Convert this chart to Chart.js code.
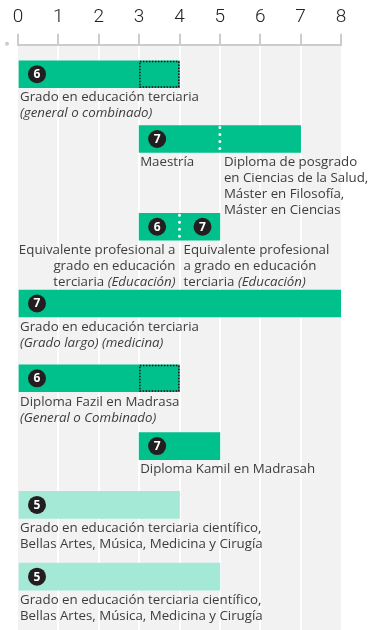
<!DOCTYPE html>
<html>
<head>
<meta charset="utf-8">
<script src="https://cdn.jsdelivr.net/npm/chart.js@4.4.1/dist/chart.umd.min.js"></script>
<style>
  html, body { margin: 0; padding: 0; background: #fff; }
  #wrap { width: 368px; height: 630px; }
</style>
</head>
<body>
<div id="wrap"><canvas id="chart"></canvas></div>
<script>
// --- data ---
const yearTicks = [0, 1, 2, 3, 4, 5, 6, 7, 8];
const mainSeg   = [[0, 3], [3, 7], [3, 5], [0, 8], [0, 3], [3, 5], null, null];
const dottedSeg = [[3, 4], null, null, null, [3, 4], null, null, null];
const lightSeg  = [null, null, null, null, null, null, [0, 4], [0, 5]];
const splitAt   = [null, 5, 4, null, null, null, null, null];
const iscedLevel = [[6], [7], [6, 7], [7], [6], [7], [5], [5]];
const labelMain = [
  ['Grado en educación terciaria', '_(general o combinado)_'],
  ['Maestría'],
  ['Equivalente profesional a', 'grado en educación', 'terciaria _(Educación)_'],
  ['Grado en educación terciaria', '_(Grado largo) (medicina)_'],
  ['Diploma Fazil en Madrasa', '_(General o Combinado)_'],
  ['Diploma Kamil en Madrasah'],
  ['Grado en educación terciaria científico,', 'Bellas Artes, Música, Medicina y Cirugía'],
  ['Grado en educación terciaria científico,', 'Bellas Artes, Música, Medicina y Cirugía']
];
const labelSplit = [
  null,
  ['Diploma de posgrado', 'en Ciencias de la Salud,', 'Máster en Filosofía,', 'Máster en Ciencias'],
  ['Equivalente profesional', 'a grado en educación', 'terciaria _(Educación)_'],
  null, null, null, null, null
];

// --- layout ---
const rowGap = [29.5, 65, 88, 77, 75, 68, 59, 72]; // spacing between row centres
const rowY = [];
rowGap.reduce((acc, g) => { rowY.push(acc + g); return acc + g; }, 0);
const mainAlignRight = [false, false, true, false, false, false, false, false];

const GREEN = '#00c08b', LIGHT = '#a3e9d6', TEXT = '#3d3d3d';
const FONT = '"Open Sans", sans-serif';

function toData(segs) {
  return segs.map((s, i) => s ? { x: s, y: rowY[i] } : null).filter(d => d);
}

function drawRich(ctx, line, x, y, alignRight) {
  const parts = line.split('_');
  const fonts = parts.map((p, k) => (k % 2 ? 'italic ' : '') + '13.3px ' + FONT);
  let total = 0;
  parts.forEach((p, k) => { ctx.font = fonts[k]; total += ctx.measureText(p).width; });
  let cx = alignRight ? x - total : x;
  parts.forEach((p, k) => {
    ctx.font = fonts[k];
    ctx.fillText(p, cx, y);
    cx += ctx.measureText(p).width;
  });
}

const decorations = {
  id: 'decorations',
  beforeDraw(chart) {
    const { ctx, chartArea, scales } = chart;
    const x0 = scales.x.getPixelForValue(0), x1 = scales.x.getPixelForValue(8);
    ctx.save();
    ctx.fillStyle = '#f2f2f2';
    ctx.fillRect(x0, chartArea.top + 1, x1 - x0, chart.height - chartArea.top);
    ctx.fillStyle = '#cccccc';
    ctx.beginPath();
    ctx.arc(7, chartArea.top - 1, 2, 0, Math.PI * 2);
    ctx.fill();
    ctx.restore();
  },
  afterDatasetsDraw(chart) {
    const { ctx, scales } = chart;
    const xs = scales.x;
    const bars = {};
    chart.data.datasets.forEach((ds, di) => {
      chart.getDatasetMeta(di).data.forEach((el, k) => {
        const p = el.getProps(['x', 'y', 'base', 'height'], true);
        const row = rowY.indexOf(ds.data[k].y);
        bars[row] = bars[row] || [];
        bars[row].push({ ds: ds.label, ...p });
      });
    });
    ctx.save();
    // dotted outline of optional year
    Object.keys(bars).forEach(r => {
      bars[r].forEach(b => {
        if (b.ds !== 'optional') return;
        ctx.strokeStyle = '#111';
        ctx.lineWidth = 1.5;
        ctx.setLineDash([1.5, 1.5]);
        const l = Math.min(b.x, b.base), w = Math.abs(b.x - b.base);
        ctx.strokeRect(l + 0.75, b.y - b.height / 2 + 0.75, w - 1.5, b.height - 1.5);
      });
    });
    ctx.setLineDash([]);
    for (let i = 0; i < rowY.length; i++) {
      const b = bars[i].find(d => d.ds !== 'optional');
      const top = b.y - b.height / 2, bottom = b.y + b.height / 2;
      const start = Math.min(b.x, b.base);
      // white dotted split
      if (splitAt[i] !== null) {
        const sx = xs.getPixelForValue(splitAt[i]);
        ctx.strokeStyle = '#fff';
        ctx.lineWidth = 3;
        ctx.lineCap = 'round';
        ctx.setLineDash([0, 7]);
        ctx.beginPath();
        ctx.moveTo(sx, top + 2);
        ctx.lineTo(sx, bottom);
        ctx.stroke();
        ctx.setLineDash([]);
      }
      // level badges
      const badgeX = [start + 18];
      if (iscedLevel[i].length > 1) badgeX.push(xs.getPixelForValue(splitAt[i]) + 23);
      iscedLevel[i].forEach((lv, k) => {
        ctx.fillStyle = '#231f20';
        ctx.beginPath();
        ctx.arc(badgeX[k], b.y, 9, 0, Math.PI * 2);
        ctx.fill();
        ctx.fillStyle = '#fff';
        ctx.font = 'bold 12px ' + FONT;
        ctx.textAlign = 'center';
        ctx.textBaseline = 'middle';
        ctx.fillText(String(lv), badgeX[k], b.y + 0.5);
      });
      // labels
      ctx.fillStyle = TEXT;
      ctx.textAlign = 'left';
      ctx.textBaseline = 'middle';
      const mx = mainAlignRight[i] ? xs.getPixelForValue(splitAt[i]) - 4 : start + 1;
      labelMain[i].forEach((line, k) => drawRich(ctx, line, mx, bottom + 10 + k * 16, mainAlignRight[i]));
      if (labelSplit[i]) {
        const lx = xs.getPixelForValue(splitAt[i]) + 4;
        labelSplit[i].forEach((line, k) => drawRich(ctx, line, lx, bottom + 10 + k * 16, false));
      }
    }
    ctx.restore();
  }
};

new Chart(document.getElementById('chart'), {
  type: 'bar',
  data: {
    datasets: [
      { label: 'main', data: toData(mainSeg), backgroundColor: GREEN },
      { label: 'optional', data: toData(dottedSeg), backgroundColor: GREEN },
      { label: 'light', data: toData(lightSeg), backgroundColor: LIGHT }
    ]
  },
  options: {
    indexAxis: 'y',
    responsive: true,
    maintainAspectRatio: false,
    animation: false,
    layout: { padding: { left: 18, right: 27, top: 1, bottom: 0 } },
    datasets: { bar: { barThickness: 27, grouped: false, borderWidth: 0 } },
    plugins: { legend: { display: false }, tooltip: { enabled: false } },
    scales: {
      x: {
        type: 'linear',
        position: 'top',
        min: 0,
        max: 8,
        afterBuildTicks: (s) => { s.ticks = yearTicks.map(v => ({ value: v })); },
        ticks: { color: '#222', font: { family: 'Roboto, sans-serif', size: 19, weight: 300 }, padding: 5 },
        grid: {
          color: (c) => (c.tick && (c.tick.value === 0 || c.tick.value === 8)) ? 'rgba(0,0,0,0)' : '#ffffff',
          lineWidth: 2,
          tickLength: 11,
          tickColor: '#cccccc',
          tickWidth: 2
        },
        border: { display: true, color: '#cccccc', width: 2 }
      },
      y: {
        type: 'linear',
        display: false,
        reverse: true,
        offset: false,
        min: 0,
        max: 587
      }
    }
  },
  plugins: [decorations]
});
</script>
</body>
</html>
